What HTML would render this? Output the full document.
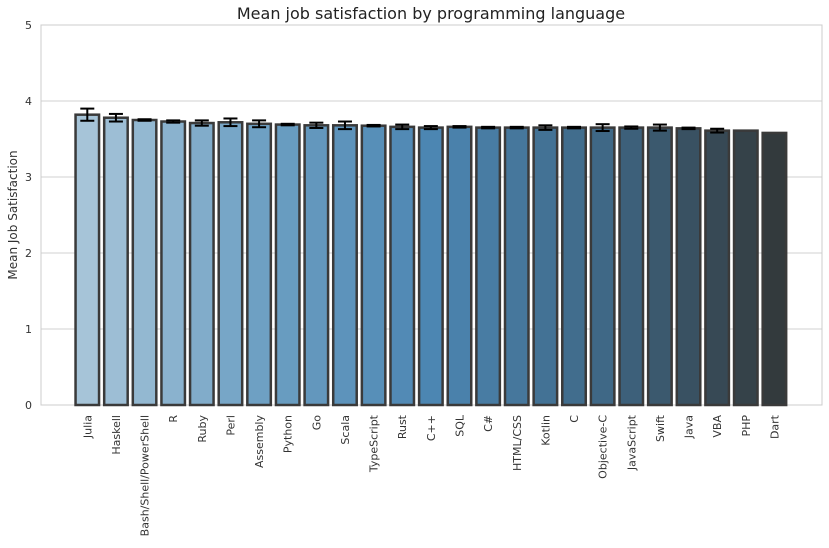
<!DOCTYPE html>
<html><head><meta charset="utf-8"><style>
body{margin:0;background:#fff;font-family:"DejaVu Sans","Liberation Sans",sans-serif;}
</style></head><body>
<svg id="chart" width="829" height="544" xmlns="http://www.w3.org/2000/svg" font-family="DejaVu Sans, Liberation Sans, sans-serif"></svg>
<script>
const categories=["Julia","Haskell","Bash/Shell/PowerShell","R","Ruby","Perl","Assembly","Python","Go","Scala","TypeScript","Rust","C++","SQL","C#","HTML/CSS","Kotlin","C","Objective-C","JavaScript","Swift","Java","VBA","PHP","Dart"];
const values=[3.82,3.78,3.75,3.73,3.71,3.72,3.70,3.69,3.68,3.68,3.675,3.66,3.65,3.66,3.65,3.65,3.65,3.65,3.65,3.65,3.65,3.64,3.61,3.61,3.58];
const errors=[0.08,0.05,0.01,0.015,0.035,0.05,0.045,0.01,0.035,0.05,0.01,0.03,0.02,0.01,0.01,0.01,0.03,0.01,0.045,0.015,0.04,0.01,0.025,0,0];
const yTicks=[0,1,2,3,4,5];
const svg=document.getElementById('chart');
const NS='http://www.w3.org/2000/svg';
function mk(t,a,p){const e=document.createElementNS(NS,t);for(const k in a)e.setAttribute(k,a[k]);(p||svg).appendChild(e);return e;}
const L=41,R=822,T=25,B=405;
const y=v=>B-(v/5)*(B-T);
const slot=28.63,x0=87.3;
const x=i=>x0+i*slot;
const bw=23.5;
const stops=[[166,196,216],[110,160,195],[76,134,178],[63,104,134],[51,58,61]];
function col(t){const s=t*(stops.length-1);const i=Math.min(Math.floor(s),stops.length-2);const f=s-i;const c=stops[i].map((v,k)=>Math.round(v+(stops[i+1][k]-v)*f));return `rgb(${c.join(',')})`;}
yTicks.forEach(t=>{
 const g=mk('line',{x1:L,x2:R,y1:y(t),y2:y(t),stroke:'#d0d0d0','stroke-width':1});
 
 
 const tx=mk('text',{x:L-9,y:y(t)+4,'text-anchor':'end','font-size':11,fill:'#333'});
 tx.textContent=t;
 
 
});
const fr=mk('rect',{x:L,y:T,width:R-L,height:B-T,fill:'none',stroke:'#cccccc','stroke-width':1});


categories.forEach((c,i)=>{
 const v=values[i];
 const r=mk('rect',{x:x(i)-bw/2,y:y(v),width:bw,height:B-y(v),fill:col(i/(categories.length-1)),stroke:'#3a3a3a','stroke-width':2.5});
 
 
 if(errors[i]>0){
  const g=mk('g',{stroke:'#000','stroke-width':2});
  
  
  mk('line',{x1:x(i),x2:x(i),y1:y(v+errors[i]),y2:y(v-errors[i])},g);
  mk('line',{x1:x(i)-7,x2:x(i)+7,y1:y(v+errors[i]),y2:y(v+errors[i])},g);
  mk('line',{x1:x(i)-7,x2:x(i)+7,y1:y(v-errors[i]),y2:y(v-errors[i])},g);
 }
 const t=mk('text',{x:0,y:0,'text-anchor':'end','font-size':11,fill:'#333',transform:`translate(${x(i)+4},${B+10}) rotate(-90)`});
 t.textContent=c;
 
 
});
const ti=mk('text',{x:431,y:19,'text-anchor':'middle','font-size':16,fill:'#222'});
ti.textContent='Mean job satisfaction by programming language';


const yl=mk('text',{x:0,y:0,'text-anchor':'middle','font-size':12,fill:'#333',transform:`translate(17,${(T+B)/2}) rotate(-90)`});
yl.textContent='Mean Job Satisfaction';


</script>
</body></html>
